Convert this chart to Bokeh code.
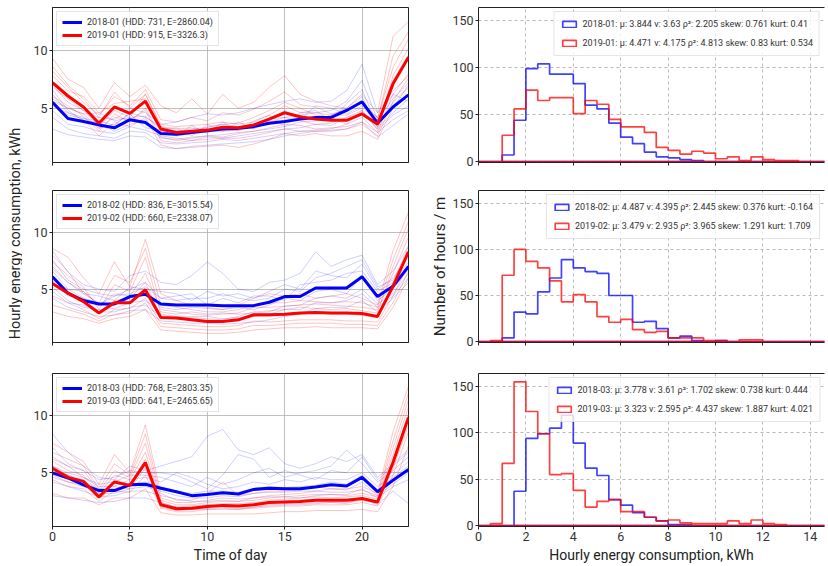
from bokeh.plotting import figure
from bokeh.layouts import column, row
from bokeh.models import FixedTicker, LinearAxis, Label, Range1d
from bokeh.embed import file_html
from bokeh.resources import INLINE

FONT = "Roboto"

hours = list(range(24))

# ---- mean hourly profiles ----
mean_2018_01 = [5.5, 4.1, 3.85, 3.55, 3.3, 4.0, 3.75, 2.8, 2.75, 2.9, 3.05, 3.2, 3.25, 3.4, 3.7, 3.85, 4.05, 4.2, 4.2, 4.8, 5.55, 3.7, 5.1, 6.15]
mean_2019_01 = [7.2, 6.05, 5.1, 3.7, 5.1, 4.55, 5.6, 3.2, 2.9, 3.0, 3.1, 3.35, 3.3, 3.55, 4.05, 4.6, 4.25, 4.05, 3.95, 3.95, 4.5, 3.6, 7.1, 9.4]
mean_2018_02 = [6.1, 4.65, 4.0, 3.7, 3.7, 4.35, 4.55, 3.7, 3.6, 3.6, 3.6, 3.55, 3.55, 3.55, 3.85, 4.35, 4.35, 5.1, 5.1, 5.1, 6.1, 4.35, 5.25, 7.0]
mean_2019_02 = [5.5, 4.65, 3.9, 2.9, 3.8, 3.8, 4.95, 2.5, 2.45, 2.3, 2.15, 2.15, 2.3, 2.75, 2.75, 2.8, 2.9, 2.95, 2.9, 2.9, 2.85, 2.6, 5.25, 8.3]
mean_2018_03 = [5.0, 4.55, 3.95, 3.45, 3.45, 3.95, 4.0, 3.65, 3.35, 3.0, 3.1, 3.25, 3.15, 3.55, 3.65, 3.6, 3.6, 3.75, 3.95, 3.85, 4.6, 3.35, 4.35, 5.3]
mean_2019_03 = [5.4, 4.6, 4.25, 2.9, 4.2, 3.9, 5.9, 2.2, 1.85, 1.9, 2.05, 2.15, 2.1, 2.2, 2.4, 2.45, 2.5, 2.6, 2.6, 2.6, 2.75, 2.45, 5.9, 9.85]

# ---- some individual daily profiles (estimated) ----
days_2018_01 = [
    [7.0, 5.5, 4.8, 4.2, 4.0, 5.0, 4.6, 3.6, 3.8, 4.2, 4.5, 4.4, 4.6, 5.0, 5.3, 5.6, 5.8, 5.5, 5.6, 6.5, 8.8, 4.6, 6.5, 7.8],
    [4.2, 3.2, 2.8, 2.6, 2.4, 3.0, 2.9, 2.0, 1.9, 2.0, 2.1, 2.3, 2.2, 2.4, 2.6, 2.8, 3.0, 3.1, 3.2, 3.6, 4.2, 2.9, 4.0, 4.8],
    [6.2, 4.6, 4.2, 3.3, 3.6, 4.5, 3.3, 3.1, 2.6, 3.5, 2.8, 3.8, 3.0, 3.9, 4.4, 3.4, 4.6, 4.8, 3.9, 5.4, 6.6, 3.4, 5.5, 6.8],
    [3.2, 2.7, 2.5, 2.3, 2.2, 2.6, 2.5, 1.6, 1.5, 1.7, 1.8, 1.9, 2.0, 2.1, 2.3, 2.6, 2.8, 3.0, 3.0, 3.2, 3.8, 2.5, 3.5, 4.5],
    [5.8, 5.0, 4.5, 4.6, 3.9, 4.2, 4.3, 3.2, 3.3, 2.6, 3.6, 3.0, 3.8, 3.2, 3.9, 4.8, 4.0, 5.2, 5.0, 4.5, 5.2, 4.2, 6.2, 5.6],
    [6.6, 4.8, 3.9, 3.8, 3.0, 3.6, 4.0, 2.4, 2.3, 2.5, 2.6, 2.7, 2.9, 3.0, 3.2, 3.4, 3.8, 3.9, 4.4, 5.0, 6.0, 3.3, 4.6, 5.8],
    [4.8, 3.6, 3.4, 3.0, 2.8, 3.4, 3.1, 2.6, 2.4, 2.2, 2.5, 2.4, 2.6, 2.8, 3.0, 3.2, 3.3, 3.6, 3.5, 4.2, 4.8, 3.1, 4.4, 5.2],
    [5.4, 4.4, 4.1, 3.9, 3.5, 4.6, 4.2, 3.4, 3.0, 3.2, 3.3, 3.6, 3.4, 3.6, 4.1, 4.2, 4.4, 4.6, 4.8, 5.6, 7.4, 4.0, 5.8, 7.2],
]
days_2019_01 = [
    [9.3, 7.5, 6.8, 5.0, 7.2, 6.0, 7.0, 5.2, 4.6, 5.8, 4.5, 6.2, 5.0, 5.5, 6.8, 7.8, 6.2, 5.6, 5.2, 5.0, 6.2, 4.6, 11.2, 12.5],
    [5.2, 4.6, 4.0, 2.6, 3.8, 3.4, 4.2, 1.8, 1.5, 1.6, 1.7, 1.8, 1.6, 1.9, 2.3, 2.8, 2.6, 2.8, 2.6, 2.6, 3.0, 2.3, 5.0, 7.0],
    [8.2, 6.8, 5.5, 4.4, 6.0, 5.2, 6.6, 4.0, 3.8, 4.2, 3.9, 4.6, 4.4, 4.9, 5.6, 6.4, 5.3, 5.1, 4.5, 4.8, 5.4, 4.2, 8.5, 11.0],
    [6.0, 5.2, 4.3, 3.0, 4.5, 3.8, 5.0, 2.5, 2.2, 2.4, 2.6, 2.5, 2.8, 3.0, 3.3, 3.6, 3.5, 3.2, 3.3, 3.4, 3.8, 2.9, 6.2, 8.0],
    [7.8, 6.5, 6.0, 4.6, 5.4, 5.6, 5.8, 3.0, 2.6, 2.8, 3.4, 3.6, 3.7, 4.2, 4.8, 5.5, 5.0, 4.4, 4.2, 3.6, 4.8, 3.2, 7.8, 10.2],
    [6.8, 5.8, 4.8, 3.4, 4.8, 4.2, 6.2, 3.4, 3.2, 3.3, 3.0, 3.0, 3.1, 3.4, 3.8, 4.2, 3.9, 3.6, 3.7, 4.2, 4.6, 3.8, 7.4, 9.6],
    [8.6, 7.0, 5.8, 4.2, 6.4, 5.0, 6.2, 3.6, 3.4, 3.5, 3.6, 3.8, 3.6, 3.8, 4.4, 5.2, 4.6, 4.6, 4.4, 4.4, 5.0, 4.0, 9.5, 11.6],
    [5.6, 5.0, 4.5, 3.2, 4.2, 4.0, 4.8, 2.2, 2.0, 2.2, 2.3, 2.4, 2.4, 2.6, 2.9, 3.2, 3.0, 3.0, 3.1, 3.2, 3.6, 2.6, 5.6, 7.6],
]
days_2018_02 = [
    [8.4, 6.5, 5.4, 5.0, 4.8, 6.2, 6.6, 5.6, 5.4, 6.2, 7.4, 6.4, 5.0, 4.8, 5.6, 5.8, 6.4, 8.3, 7.0, 7.6, 8.0, 5.4, 6.6, 8.8],
    [4.2, 3.4, 3.0, 2.6, 2.7, 3.1, 3.2, 2.2, 2.1, 2.0, 2.0, 1.9, 2.0, 2.1, 2.3, 2.6, 2.8, 3.3, 3.4, 3.4, 4.0, 3.0, 4.2, 5.6],
    [7.0, 5.6, 4.6, 4.4, 4.0, 5.2, 5.0, 4.8, 4.6, 4.0, 4.8, 4.4, 4.6, 4.2, 4.8, 5.4, 5.0, 6.6, 6.2, 6.0, 7.2, 5.0, 6.0, 7.8],
    [5.2, 4.0, 3.4, 3.2, 3.3, 3.8, 4.0, 3.0, 2.8, 3.0, 2.8, 2.9, 2.8, 2.9, 3.0, 3.5, 3.6, 4.2, 4.4, 4.2, 5.0, 3.7, 4.6, 6.4],
    [6.6, 5.0, 4.8, 3.6, 4.4, 4.6, 5.2, 4.2, 4.4, 4.6, 3.6, 4.2, 3.8, 4.4, 4.4, 4.0, 5.4, 5.6, 5.8, 6.4, 6.6, 4.8, 5.6, 7.4],
    [5.8, 4.4, 4.2, 3.8, 3.6, 4.2, 4.8, 3.4, 3.2, 3.4, 3.3, 3.2, 3.4, 3.2, 3.6, 4.2, 4.0, 4.8, 5.0, 4.6, 6.2, 4.0, 5.0, 6.8],
    [7.6, 5.8, 5.0, 4.6, 4.4, 5.0, 5.6, 4.2, 4.0, 4.2, 4.2, 4.6, 4.2, 4.0, 4.2, 5.0, 4.8, 6.0, 6.4, 7.0, 7.6, 5.2, 5.8, 8.2],
    [4.8, 3.8, 3.6, 3.0, 3.0, 3.4, 3.6, 2.6, 2.4, 2.6, 2.6, 2.4, 2.5, 2.6, 2.8, 3.2, 3.2, 3.8, 3.8, 4.0, 4.6, 3.4, 4.4, 6.0],
]
days_2019_02 = [
    [8.6, 7.8, 6.0, 4.6, 7.4, 5.2, 9.4, 4.6, 4.0, 3.6, 3.4, 3.2, 3.6, 4.2, 4.6, 4.4, 4.6, 4.2, 4.4, 4.6, 4.2, 3.6, 8.4, 11.8],
    [3.0, 2.6, 2.4, 2.0, 2.4, 2.6, 3.2, 1.4, 1.3, 1.2, 1.1, 1.1, 1.2, 1.4, 1.5, 1.6, 1.6, 1.7, 1.6, 1.6, 1.6, 1.5, 3.4, 6.0],
    [6.8, 5.6, 4.8, 3.6, 4.6, 4.4, 6.4, 3.2, 3.0, 2.8, 2.7, 2.8, 2.9, 3.4, 3.4, 3.5, 3.6, 3.7, 3.6, 3.5, 3.4, 3.2, 6.4, 9.6],
    [4.4, 3.8, 3.2, 2.4, 3.2, 3.3, 4.2, 2.0, 1.9, 1.8, 1.7, 1.7, 1.8, 2.2, 2.1, 2.2, 2.3, 2.3, 2.3, 2.2, 2.2, 2.1, 4.4, 7.2],
    [7.4, 6.2, 5.2, 3.2, 5.4, 4.8, 7.8, 2.8, 2.6, 2.5, 2.4, 2.3, 2.6, 3.0, 3.1, 3.2, 3.4, 3.3, 3.2, 3.3, 3.1, 2.9, 7.0, 10.4],
    [5.8, 5.0, 4.2, 3.0, 4.0, 4.2, 5.6, 2.6, 2.4, 2.2, 2.1, 2.2, 2.2, 2.6, 2.6, 2.7, 2.8, 2.9, 2.8, 2.8, 2.7, 2.5, 5.6, 8.8],
    [8.0, 6.6, 4.6, 3.8, 6.2, 5.6, 8.6, 3.6, 3.4, 3.2, 3.0, 3.0, 3.2, 3.6, 3.8, 3.8, 4.0, 3.9, 3.8, 3.9, 3.8, 3.4, 7.6, 11.0],
    [3.6, 3.2, 2.8, 2.2, 2.8, 2.9, 3.8, 1.7, 1.6, 1.5, 1.4, 1.4, 1.5, 1.8, 1.8, 1.9, 2.0, 2.0, 2.0, 1.9, 1.9, 1.8, 3.8, 6.6],
]
days_2018_03 = [
    [8.4, 6.8, 5.6, 4.6, 4.4, 5.6, 5.2, 5.6, 6.0, 6.4, 8.2, 8.8, 7.0, 6.6, 7.2, 5.8, 5.4, 5.8, 6.4, 6.0, 6.6, 4.6, 5.8, 7.0],
    [3.0, 2.8, 2.6, 2.4, 2.5, 2.8, 2.8, 2.4, 2.0, 1.8, 1.8, 1.9, 1.8, 2.0, 2.1, 2.2, 2.2, 2.3, 2.4, 2.3, 2.8, 2.2, 3.4, 2.3],
    [6.2, 5.6, 4.6, 4.0, 4.2, 4.8, 4.8, 4.6, 4.2, 3.8, 4.6, 4.0, 4.4, 5.0, 5.4, 4.6, 5.0, 5.2, 5.6, 7.0, 5.8, 4.2, 5.2, 6.4],
    [4.2, 3.8, 3.4, 2.9, 3.0, 3.4, 3.4, 3.0, 2.7, 2.5, 2.5, 2.6, 2.5, 2.8, 2.9, 2.9, 2.8, 3.0, 3.1, 3.1, 3.6, 2.8, 3.8, 4.4],
    [5.6, 5.0, 4.6, 3.8, 3.8, 4.4, 4.6, 4.2, 5.0, 4.6, 4.0, 3.6, 3.8, 4.2, 4.0, 4.4, 4.2, 4.6, 4.4, 4.4, 5.0, 3.8, 4.8, 6.0],
    [4.6, 4.2, 3.8, 3.2, 3.2, 3.6, 3.8, 3.4, 3.0, 2.8, 2.8, 3.0, 2.9, 3.2, 3.3, 3.3, 3.4, 3.4, 3.6, 3.5, 4.2, 3.0, 4.0, 5.0],
    [7.2, 5.8, 5.2, 4.4, 4.6, 5.2, 5.0, 5.0, 4.8, 4.2, 3.6, 4.8, 6.6, 6.2, 4.6, 5.2, 4.8, 4.4, 5.2, 5.0, 6.4, 4.4, 5.6, 6.8],
    [5.2, 4.8, 4.2, 3.6, 3.6, 4.0, 4.2, 3.8, 3.4, 3.2, 3.4, 3.4, 3.3, 3.6, 3.8, 3.7, 3.8, 3.9, 4.2, 4.0, 4.8, 3.5, 4.6, 5.6],
]
days_2019_03 = [
    [7.6, 6.8, 6.0, 4.0, 6.6, 5.0, 9.2, 3.2, 2.6, 2.6, 3.2, 4.2, 3.0, 3.2, 3.4, 3.4, 3.5, 3.8, 3.6, 3.6, 3.8, 3.2, 8.6, 12.6],
    [3.2, 2.8, 2.8, 2.2, 2.8, 2.8, 3.6, 1.5, 1.3, 1.3, 1.4, 1.4, 1.4, 1.4, 1.5, 1.6, 1.6, 1.7, 1.7, 1.7, 1.8, 1.6, 3.8, 7.4],
    [6.4, 5.6, 5.2, 3.4, 5.2, 4.6, 7.6, 2.6, 2.2, 2.2, 2.4, 2.5, 2.5, 2.6, 2.8, 2.9, 3.0, 3.1, 3.1, 3.0, 3.2, 2.9, 7.2, 11.4],
    [4.4, 3.8, 3.6, 2.5, 3.4, 3.3, 4.8, 1.9, 1.6, 1.6, 1.8, 1.8, 1.8, 1.9, 2.0, 2.1, 2.1, 2.2, 2.2, 2.2, 2.4, 2.1, 4.8, 8.6],
    [6.0, 5.2, 4.8, 3.2, 4.8, 4.4, 6.8, 2.4, 2.0, 2.1, 2.2, 2.3, 2.3, 2.4, 2.6, 2.7, 2.8, 2.9, 2.8, 2.9, 3.0, 2.7, 6.6, 10.8],
    [5.6, 4.8, 4.4, 3.0, 4.4, 4.0, 6.2, 2.2, 1.9, 2.0, 2.1, 2.2, 2.2, 2.3, 2.5, 2.5, 2.6, 2.7, 2.7, 2.7, 2.8, 2.5, 6.2, 10.2],
    [6.8, 6.2, 5.6, 3.6, 5.8, 4.8, 8.4, 2.8, 2.4, 2.4, 2.6, 2.8, 2.7, 2.8, 3.0, 3.1, 3.2, 3.4, 3.3, 3.3, 3.5, 3.0, 7.8, 12.0],
    [4.8, 4.2, 4.0, 2.7, 3.8, 3.6, 5.4, 2.0, 1.7, 1.8, 1.9, 2.0, 1.9, 2.0, 2.2, 2.3, 2.3, 2.4, 2.4, 2.4, 2.6, 2.3, 5.4, 9.2],
]

profile_labels_2018 = ["2018-01 (HDD: 731, E=2860.04)", "2018-02 (HDD: 836, E=3015.54)", "2018-03 (HDD: 768, E=2803.35)"]
profile_labels_2019 = ["2019-01 (HDD: 915, E=3326.3)", "2019-02 (HDD: 660, E=2338.07)", "2019-03 (HDD: 641, E=2465.65)"]

# ---- histograms (0.5 kWh bins from 0 to 15) ----
bin_edges = [i * 0.5 for i in range(31)]
hist_2018_01 = [0, 0, 7, 44, 99, 104, 93, 93, 83, 60, 56, 41, 26, 19, 10, 5, 4, 2, 1, 0, 0, 0, 0, 0, 0, 0, 0, 0, 0, 0]
hist_2019_01 = [0, 0, 28, 56, 76, 65, 68, 68, 51, 65, 61, 45, 37, 37, 31, 15, 12, 8, 11, 9, 3, 5, 1, 5, 2, 1, 1, 0, 0, 0]
hist_2018_02 = [0, 0, 4, 32, 30, 54, 69, 89, 80, 76, 74, 50, 50, 21, 22, 14, 4, 6, 1, 0, 1, 0, 0, 0, 0, 0, 0, 0, 0, 0]
hist_2019_02 = [0, 1, 72, 100, 87, 80, 66, 43, 51, 43, 27, 21, 24, 13, 10, 11, 4, 4, 4, 1, 1, 0, 2, 2, 0, 0, 0, 0, 0, 0]
hist_2018_03 = [0, 0, 0, 37, 94, 99, 105, 119, 89, 62, 54, 28, 22, 14, 9, 5, 1, 1, 0, 0, 0, 0, 0, 0, 0, 0, 0, 0, 0, 0]
hist_2019_03 = [0, 2, 67, 155, 123, 99, 55, 56, 38, 20, 26, 28, 15, 15, 9, 5, 6, 3, 2, 2, 2, 5, 2, 6, 2, 1, 0, 0, 0, 0]

hist_labels_2018 = [
    "2018-01: \u03bc: 3.844 \u03bd: 3.63 \u03c1\u00b2: 2.205 skew: 0.761 kurt: 0.41",
    "2018-02: \u03bc: 4.487 \u03bd: 4.395 \u03c1\u00b2: 2.445 skew: 0.376 kurt: -0.164",
    "2018-03: \u03bc: 3.778 \u03bd: 3.61 \u03c1\u00b2: 1.702 skew: 0.738 kurt: 0.444",
]
hist_labels_2019 = [
    "2019-01: \u03bc: 4.471 \u03bd: 4.175 \u03c1\u00b2: 4.813 skew: 0.83 kurt: 0.534",
    "2019-02: \u03bc: 3.479 \u03bd: 2.935 \u03c1\u00b2: 3.965 skew: 1.291 kurt: 1.709",
    "2019-03: \u03bc: 3.323 \u03bd: 2.595 \u03c1\u00b2: 4.437 skew: 1.887 kurt: 4.021",
]

left_ticks = [0, 5, 10, 15, 20]
hist_ticks = [0, 2, 4, 6, 8, 10, 12, 14]

means_2018 = [mean_2018_01, mean_2018_02, mean_2018_03]
means_2019 = [mean_2019_01, mean_2019_02, mean_2019_03]
days_2018 = [days_2018_01, days_2018_02, days_2018_03]
days_2019 = [days_2019_01, days_2019_02, days_2019_03]
hists_2018 = [hist_2018_01, hist_2018_02, hist_2018_03]
hists_2019 = [hist_2019_01, hist_2019_02, hist_2019_03]

BLUE = "#0000ff"
RED = "#ff0000"

# layout per row: (top border, frame height, bottom border)
rows_geom = [(7, 155, 20), (8, 152, 20), (11, 153, 39)]
TOTAL_H = sum(a + b + c for a, b, c in rows_geom)


def style_axis(ax):
    ax.major_label_text_font = FONT
    ax.major_label_text_font_size = "12.5px"
    ax.major_label_text_color = "#333333"
    ax.axis_label_text_font = FONT
    ax.axis_label_text_font_size = "14px"
    ax.axis_label_text_font_style = "normal"
    ax.axis_label_text_color = "#222222"
    ax.major_tick_out = 3
    ax.major_tick_in = 0
    ax.minor_tick_line_color = None
    ax.major_label_standoff = 2
    ax.axis_line_color = "#222222"
    ax.major_tick_line_color = "#222222"


def step_outline(edges, counts):
    xs = [edges[0]]
    ys = [0]
    for i, c in enumerate(counts):
        xs += [edges[i], edges[i + 1]]
        ys += [c, c]
    xs.append(edges[-1])
    ys.append(0)
    return xs, ys


def style_legend(lg, loc, pad, spacing, lh, gh, gw):
    lg.location = loc
    lg.margin = 4
    lg.padding = pad
    lg.spacing = spacing
    lg.label_height = lh
    lg.glyph_height = gh
    lg.glyph_width = gw
    lg.label_standoff = 5
    lg.label_text_font = FONT
    lg.label_text_font_size = "9px"
    lg.label_text_color = "#333333"
    lg.border_line_color = "#cccccc"
    lg.background_fill_alpha = 0.8


rows = []
for i in range(3):
    top, fh, bottom = rows_geom[i]
    last = i == 2

    # ---------- left: daily profiles ----------
    p = figure(frame_width=356, frame_height=fh, x_range=(0, 23), y_range=(0.3, 13.7),
               output_backend="svg", toolbar_location=None,
               min_border_left=30, min_border_right=20, min_border_top=top, min_border_bottom=bottom)
    for d in days_2018[i]:
        p.line(hours, d, color=BLUE, alpha=0.19, line_width=1)
    for d in days_2019[i]:
        p.line(hours, d, color=RED, alpha=0.23, line_width=1)
    p.line(hours, means_2018[i], color=BLUE, line_width=3, legend_label=profile_labels_2018[i])
    p.line(hours, means_2019[i], color=RED, line_width=3, legend_label=profile_labels_2019[i])
    xb = p.below[0]
    xb.ticker = FixedTicker(ticks=left_ticks)
    p.yaxis.ticker = FixedTicker(ticks=[5, 10])
    p.grid.grid_line_color = "#b0b0b0"
    p.grid.grid_line_alpha = 0.8
    p.outline_line_color = "#222222"
    style_axis(xb)
    style_axis(p.left[0])
    if not last:
        xb.major_label_overrides = {t: "" for t in left_ticks}
    else:
        xb.axis_label = "Time of day"
        xb.axis_label_standoff = 3
    style_legend(p.legend[0], "top_left", 5, 3, 10, 10, 20)

    # ---------- right: histograms ----------
    h = figure(frame_width=346, frame_height=fh, x_range=(0, 14.6), y_range=(-1, 164),
               output_backend="svg", toolbar_location=None,
               min_border_left=50, min_border_right=2, min_border_top=top, min_border_bottom=bottom)
    bx, by = step_outline(bin_edges, hists_2018[i])
    rx, ry = step_outline(bin_edges, hists_2019[i])
    h.patch(bx, by, fill_alpha=0, line_color=BLUE, line_alpha=0.75, line_width=1.7,
            legend_label=hist_labels_2018[i])
    h.patch(rx, ry, fill_alpha=0, line_color=RED, line_alpha=0.75, line_width=1.7,
            legend_label=hist_labels_2019[i])
    hb = h.below[0]
    hb.ticker = FixedTicker(ticks=hist_ticks)
    h.yaxis.ticker = FixedTicker(ticks=[0, 50, 100, 150])
    h.grid.grid_line_color = "#b8b8b8"
    h.grid.grid_line_dash = "3 3"
    h.outline_line_color = None
    style_axis(hb)
    style_axis(h.left[0])
    top_axis = LinearAxis(ticker=FixedTicker(ticks=[]), major_tick_out=0, major_tick_in=0,
                          minor_tick_out=0, minor_tick_in=0, major_label_standoff=0,
                          axis_line_color="#222222")
    h.add_layout(top_axis, "above")
    if not last:
        hb.major_label_overrides = {t: "" for t in hist_ticks}
    else:
        hb.axis_label = "Hourly energy consumption, kWh"
        hb.axis_label_standoff = 3
    if i == 1:
        h.left[0].axis_label = "Number of hours / m"
        h.left[0].axis_label_standoff = 0
        h.left[0].axis_label_text_font_size = "15px"
    style_legend(h.legend[0], "top_right", 6, 7, 12, 8, 17)

    rows.append(row(p, h))

# shared y-axis title on the far left (spans the rows, as in the reference)
lab = figure(width=22, height=TOTAL_H, x_range=(0, 22), y_range=Range1d(TOTAL_H, 0),
             output_backend="svg", toolbar_location=None, x_axis_location=None, y_axis_location=None,
             min_border=0)
lab.outline_line_color = None
lab.grid.visible = False
lab.add_layout(Label(x=15, y=233, text="Hourly energy consumption, kWh", angle=90, angle_units="deg",
                     text_align="center", text_baseline="middle", text_font=FONT,
                     text_font_size="14.5px", text_color="#222222"))

layout = row(lab, column(*rows))
open("out.html", "w").write(file_html(layout, INLINE))
